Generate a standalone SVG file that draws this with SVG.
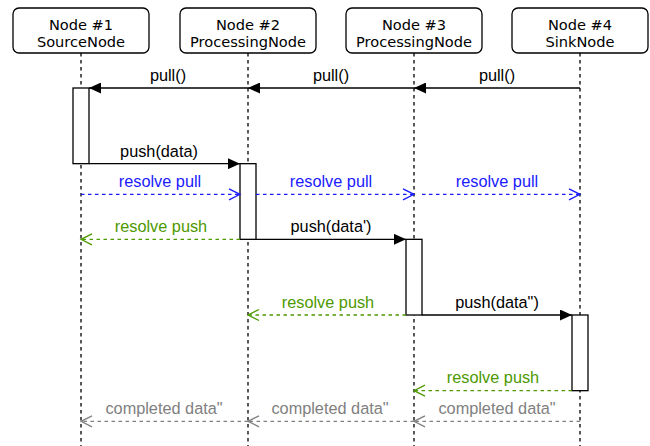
<svg xmlns="http://www.w3.org/2000/svg" width="650" height="446" viewBox="0 0 650 446">
<style>
.box{fill:#fff;stroke:#000;stroke-width:1.3}
.nl{font-family:"DejaVu Sans",Verdana,sans-serif;font-size:14.6px;text-anchor:middle;fill:#000}
.life{stroke:#000;stroke-width:1.3;stroke-dasharray:3.5 3.5;fill:none}
.act{fill:#fff;stroke:#000;stroke-width:1.3}
.msg{stroke:#000;stroke-width:1.3;fill:none;marker-end:url(#fill)}
.rp{stroke:#1a1aff;stroke-width:1.3;stroke-dasharray:3.5 3.5;fill:none;marker-end:url(#openB)}
.rs{stroke:#4d9900;stroke-width:1.3;stroke-dasharray:3.5 3.5;fill:none;marker-end:url(#openG)}
.cd{stroke:#808080;stroke-width:1.3;stroke-dasharray:3.5 3.5;fill:none;marker-end:url(#openK)}
.lb{font-family:"Liberation Sans",Arial,sans-serif;font-size:16.3px;text-anchor:middle;fill:#000}
.lbB{fill:#1a1aff}.lbG{fill:#4d9900}.lbK{fill:#808080}
</style>
<defs>
<marker id="fill" markerUnits="userSpaceOnUse" markerWidth="12" markerHeight="11" viewBox="0 0 12 11" refX="12" refY="5.5" orient="auto"><path d="M0,0 L12,5.5 L0,11 Z" fill="#000"/></marker>
<marker id="openB" markerUnits="userSpaceOnUse" markerWidth="14" markerHeight="14" viewBox="-1 -1 14 14" refX="11" refY="5.5" orient="auto"><path d="M0,0 L11,5.5 L0,11" fill="none" stroke="#1a1aff" stroke-width="1.3"/></marker>
<marker id="openG" markerUnits="userSpaceOnUse" markerWidth="14" markerHeight="14" viewBox="-1 -1 14 14" refX="11" refY="5.5" orient="auto"><path d="M0,0 L11,5.5 L0,11" fill="none" stroke="#4d9900" stroke-width="1.3"/></marker>
<marker id="openK" markerUnits="userSpaceOnUse" markerWidth="14" markerHeight="14" viewBox="-1 -1 14 14" refX="11" refY="5.5" orient="auto"><path d="M0,0 L11,5.5 L0,11" fill="none" stroke="#808080" stroke-width="1.3"/></marker>
</defs>
<g id="node1">
<line class="life" x1="81" y1="53" x2="81" y2="446"/>
<rect class="box" x="13" y="8" width="136" height="45" rx="6"/>
<text class="nl" x="81" y="29.5">Node #1</text>
<text class="nl" x="81" y="46.5">SourceNode</text>
<rect class="act" x="73" y="88" width="16" height="75.67"/>
</g>
<g id="node2">
<line class="life" x1="248" y1="53" x2="248" y2="446"/>
<rect class="box" x="180" y="8" width="136" height="45" rx="6"/>
<text class="nl" x="248" y="29.5">Node #2</text>
<text class="nl" x="248" y="46.5">ProcessingNode</text>
<rect class="act" x="240" y="163.67" width="16" height="75.67"/>
</g>
<g id="node3">
<line class="life" x1="414" y1="53" x2="414" y2="446"/>
<rect class="box" x="346" y="8" width="136" height="45" rx="6"/>
<text class="nl" x="414" y="29.5">Node #3</text>
<text class="nl" x="414" y="46.5">ProcessingNode</text>
<rect class="act" x="406" y="239.33" width="16" height="75.67"/>
</g>
<g id="node4">
<line class="life" x1="580" y1="53" x2="580" y2="446"/>
<rect class="box" x="512" y="8" width="136" height="45" rx="6"/>
<text class="nl" x="580" y="29.5">Node #4</text>
<text class="nl" x="580" y="46.5">SinkNode</text>
<rect class="act" x="572" y="315" width="16" height="75.67"/>
</g>
<g id="connectors">
<line class="msg" x1="580" y1="88" x2="414" y2="88"/>
<line class="msg" x1="414" y1="88" x2="248" y2="88"/>
<line class="msg" x1="248" y1="88" x2="89" y2="88"/>
<text class="lb" x="497" y="81">pull()</text>
<text class="lb" x="331" y="81">pull()</text>
<text class="lb" x="168" y="81">pull()</text>
<line class="msg" x1="89" y1="163.67" x2="240" y2="163.67"/>
<text class="lb" x="159" y="156.5">push(data)</text>
<line class="rp" x1="81" y1="194.33" x2="240" y2="194.33"/>
<line class="rp" x1="256" y1="194.33" x2="414" y2="194.33"/>
<line class="rp" x1="422" y1="194.33" x2="580" y2="194.33"/>
<text class="lb lbB" x="160" y="187">resolve pull</text>
<text class="lb lbB" x="331" y="187">resolve pull</text>
<text class="lb lbB" x="497" y="187">resolve pull</text>
<line class="rs" x1="240" y1="239.33" x2="81" y2="239.33"/>
<text class="lb lbG" x="161" y="232">resolve push</text>
<line class="msg" x1="256" y1="239.33" x2="406" y2="239.33"/>
<text class="lb" x="331" y="232">push(data')</text>
<line class="rs" x1="406" y1="315" x2="248" y2="315"/>
<text class="lb lbG" x="328" y="307.5">resolve push</text>
<line class="msg" x1="422" y1="315" x2="572" y2="315"/>
<text class="lb" x="497" y="307.5">push(data")</text>
<line class="rs" x1="572" y1="390.67" x2="414" y2="390.67"/>
<text class="lb lbG" x="493" y="383">resolve push</text>
<line class="cd" x1="580" y1="421.33" x2="414" y2="421.33"/>
<line class="cd" x1="414" y1="421.33" x2="248" y2="421.33"/>
<line class="cd" x1="248" y1="421.33" x2="81" y2="421.33"/>
<text class="lb lbK" x="497" y="414">completed data"</text>
<text class="lb lbK" x="330" y="414">completed data"</text>
<text class="lb lbK" x="164" y="414">completed data"</text>
</g>
</svg>
